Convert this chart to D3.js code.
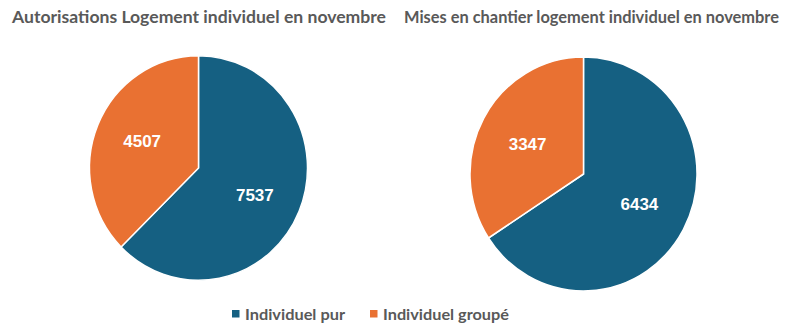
<!DOCTYPE html>
<html>
<head>
<meta charset="utf-8">
<script src="https://cdn.jsdelivr.net/npm/d3@7"></script>
<style>
  body { margin: 0; background: #fff; }
</style>
</head>
<body>
<svg width="800" height="331"></svg>
<script>
var categories = ["Individuel pur", "Individuel groupé"];
var colors = ["#156082", "#E97132"];
var titles = ["Autorisations Logement individuel en novembre", "Mises en chantier logement individuel en novembre"];
var autorisations = [7537, 4507];
var misesEnChantier = [6434, 3347];

var svg = d3.select("svg");

var charts = [
  { title: titles[0], values: autorisations, cx: 198.5, cy: 168, r: 109, sy: 1.03, ls: 1.12, tx: 12, tw: 374 },
  { title: titles[1], values: misesEnChantier, cx: 583.5, cy: 174, r: 113.5, sy: 1.03, ls: 0.95, tx: 404, tw: 375 }
];

var color = d3.scaleOrdinal().domain(categories).range(colors);

var pie = d3.pie().sort(null).value(d => d.value);

charts.forEach(c => {
  var data = categories.map((k, i) => ({ key: k, value: c.values[i] }));
  var arcs = pie(data);
  var arc = d3.arc().innerRadius(0).outerRadius(c.r);
  var labelArc = d3.arc().innerRadius(0).outerRadius(c.r * 1.12);

  svg.append("text")
      .attr("x", c.tx)
      .attr("y", 23)
      .attr("textLength", c.tw)
      .attr("lengthAdjust", "spacingAndGlyphs")
      .style("font-family", "Lato, sans-serif")
      .attr("fill", "#595959")
      .attr("font-weight", "bold")
      .attr("font-size", 17)
      .text(c.title);

  var g = svg.append("g").attr("transform", "translate(" + c.cx + "," + c.cy + ")");

  g.append("g")
      .attr("transform", "scale(1," + c.sy + ")")
    .selectAll("path")
    .data(arcs)
    .join("path")
      .attr("d", arc)
      .attr("fill", d => color(d.data.key))
      .attr("stroke", "#fff")
      .attr("stroke-width", 1.5);

  g.selectAll("text")
    .data(arcs)
    .join("text")
      .attr("transform", d => {
        var p = labelArc.centroid(d);
        return "translate(" + p[0] + "," + p[1] * c.sy * c.ls + ")";
      })
      .attr("text-anchor", "middle")
      .attr("dy", "0.35em")
      .attr("fill", "#fff")
      .style("font-family", "'Liberation Sans', Arial, sans-serif")
      .attr("font-weight", "bold")
      .attr("font-size", 17)
      .text(d => d.data.value);
});

// legend
var legend = svg.append("g").attr("transform", "translate(232,314)");
var lx = [0, 138];
var lw = [100, 126];
categories.forEach((k, i) => {
  var item = legend.append("g").attr("transform", "translate(" + lx[i] + ",0)");
  item.append("rect")
      .attr("x", 0).attr("y", -4)
      .attr("width", 7.5).attr("height", 7.5)
      .attr("fill", color(k));
  item.append("text")
      .attr("x", 13)
      .attr("y", 6)
      .attr("textLength", lw[i])
      .attr("lengthAdjust", "spacingAndGlyphs")
      .style("font-family", "Lato, sans-serif")
      .attr("fill", "#595959")
      .attr("font-weight", "bold")
      .attr("font-size", 16)
      .text(k);
});
</script>
</body>
</html>
